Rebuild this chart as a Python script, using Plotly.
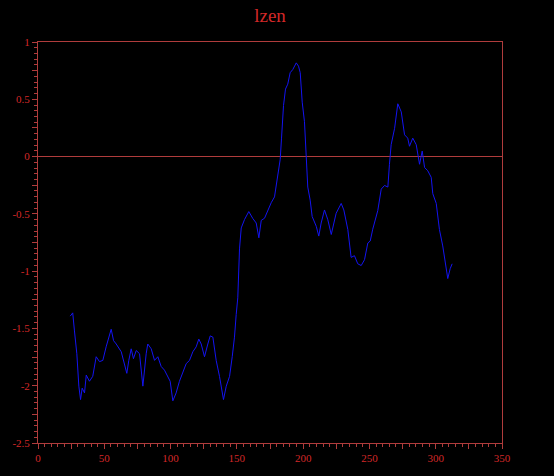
import plotly.graph_objects as go

# Series
x_vals = [24.3, 26.2, 27.5, 29.3, 30.8, 32.1, 33.3, 35.1, 36.4, 38.8, 41.3, 43.9, 46.4, 48.9,
          51.4, 55.2, 57.0, 59.0, 62.8, 65.2, 67.0, 68.5, 70.3, 72.0, 74.1, 76.6, 79.1, 81.6,
          82.8, 85.4, 87.9, 90.4, 92.9, 95.4, 97.9, 99.7, 101.7, 104.2, 106.7, 109.2, 111.8,
          114.3, 116.8, 119.3, 121.3, 123.1, 125.6, 128.1, 129.9, 131.9, 134.4, 136.9, 139.9,
          142.0, 144.5, 146.5, 148.2, 149.5, 150.7, 152.0, 153.3, 155.8, 159.0, 162.0, 164.6,
          166.6, 168.4, 170.9, 173.3, 175.9, 178.4, 180.9, 182.7, 183.7, 185.2, 186.7, 188.4,
          190.2, 192.2, 194.8, 196.5, 197.8, 199.3, 201.0, 202.3, 203.5, 205.3, 206.8, 209.9,
          211.8, 213.6, 216.1, 218.6, 221.2, 224.9, 228.7, 230.7, 233.7, 236.2, 238.7, 241.2,
          243.8, 246.3, 248.8, 250.6, 252.5, 256.3, 258.9, 261.4, 263.9, 265.1, 266.4, 269.0,
          271.4, 274.0, 276.5, 278.9, 280.2, 282.7, 285.3, 287.8, 289.8, 291.6, 294.0, 296.6,
          297.8, 300.4, 302.8, 305.3, 307.4, 309.1, 310.9, 312.4]
y_vals = [-1.393, -1.364, -1.522, -1.721, -2.004, -2.121, -2.021, -2.063, -1.907, -1.961, -1.918,
          -1.747, -1.790, -1.779, -1.661, -1.507, -1.607, -1.636, -1.704, -1.807, -1.892, -1.779,
          -1.678, -1.764, -1.693, -1.721, -2.004, -1.721, -1.636, -1.678, -1.779, -1.747, -1.832,
          -1.864, -1.918, -1.961, -2.132, -2.063, -1.961, -1.892, -1.807, -1.779, -1.704, -1.661,
          -1.593, -1.636, -1.747, -1.636, -1.565, -1.576, -1.779, -1.918, -2.121, -2.004, -1.918,
          -1.747, -1.576, -1.379, -1.233, -0.806, -0.623, -0.549, -0.480, -0.540, -0.580, -0.709,
          -0.557, -0.538, -0.466, -0.403, -0.352, -0.181, -0.024, 0.161, 0.446, 0.589, 0.632,
          0.732, 0.760, 0.818, 0.789, 0.732, 0.475, 0.304, 0.019, -0.266, -0.380, -0.523, -0.609,
          -0.694, -0.580, -0.466, -0.551, -0.680, -0.495, -0.409, -0.466, -0.637, -0.880, -0.865,
          -0.936, -0.951, -0.900, -0.754, -0.737, -0.634, -0.472, -0.284, -0.252, -0.266, -0.067,
          0.104, 0.247, 0.461, 0.390, 0.190, 0.161, 0.090, 0.161, 0.104, -0.067, 0.048, -0.095,
          -0.124, -0.181, -0.324, -0.409, -0.637, -0.780, -0.923, -1.065, -0.979, -0.936]

title_text = "lzen"
x_tickvals = [0, 25, 50, 75, 100, 125, 150, 175, 200, 225, 250, 275, 300, 325, 350]
x_ticktext = ["0", "", "50", "", "100", "", "150", "", "200", "", "250", "", "300", "", "350"]
y_tickvals = [1, 0.75, 0.5, 0.25, 0, -0.25, -0.5, -0.75, -1, -1.25, -1.5, -1.75, -2, -2.25, -2.5]
y_ticktext = ["1", "", "0.5", "", "0", "", "-0.5", "", "-1", "", "-1.5", "", "-2", "", "-2.5"]

AXIS = "#b03c3c"
LABEL = "#d42828"
FONT = "Liberation Serif"

fig = go.Figure()
fig.add_trace(go.Scatter(x=x_vals, y=y_vals, mode="lines",
                         line=dict(color="#1414f0", width=1), showlegend=False,
                         hoverinfo="skip"))

fig.update_layout(
    width=554, height=476,
    margin=dict(l=38, r=52, t=42, b=25),
    paper_bgcolor="black", plot_bgcolor="black",
    title=dict(text=title_text, x=0.5, xanchor="center", xref="paper", y=0.982, yanchor="top",
               font=dict(family=FONT, size=19, color=LABEL)),
    showlegend=False,
)

fig.update_xaxes(
    range=[0, 350], showgrid=False, zeroline=False,
    showline=True, linecolor=AXIS, linewidth=1, mirror=True,
    tickmode="array", tickvals=x_tickvals, ticktext=x_ticktext,
    ticks="outside", ticklen=5, tickcolor=AXIS, tickwidth=1,
    minor=dict(dtick=5, ticks="outside", ticklen=3, tickcolor=AXIS, tickwidth=1, showgrid=False),
    tickfont=dict(family=FONT, size=11, color=LABEL),
)
fig.update_yaxes(
    range=[-2.5, 1], showgrid=False,
    zeroline=True, zerolinecolor=AXIS, zerolinewidth=1,
    showline=True, linecolor=AXIS, linewidth=1, mirror=True,
    tickmode="array", tickvals=y_tickvals, ticktext=y_ticktext,
    ticks="outside", ticklen=5, tickcolor=AXIS, tickwidth=1,
    minor=dict(dtick=0.05, tick0=0, ticks="outside", ticklen=3, tickcolor=AXIS, tickwidth=1, showgrid=False),
    tickfont=dict(family=FONT, size=11, color=LABEL),
)

fig.write_html(
    "out.html",
    config={"displayModeBar": False, "staticPlot": True},
    post_script="document.body.style.margin='0';document.body.style.background='black';",
)
